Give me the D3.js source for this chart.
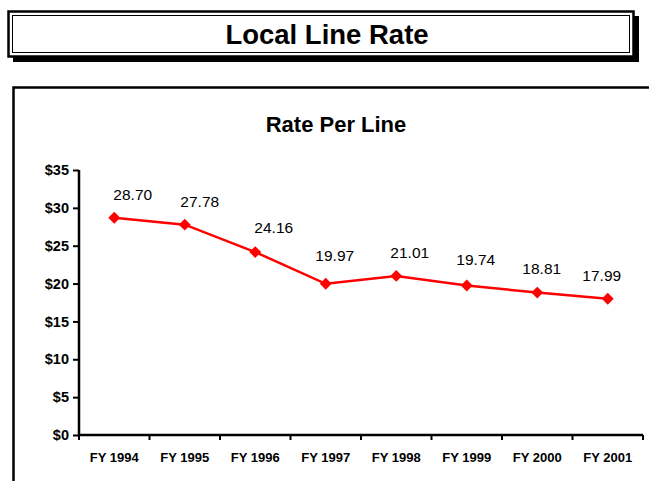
<!DOCTYPE html>
<html>
<head>
<meta charset="utf-8">
<script src="https://cdn.jsdelivr.net/npm/d3@7"></script>
<style>
  html, body { margin: 0; padding: 0; background: #fff; }
  svg { display: block; font-family: "Liberation Sans", Arial, sans-serif; }
</style>
</head>
<body>
<svg id="chart" width="649" height="481"></svg>
<script>
// Fiscal years and average local line rate (dollars per line)
const years = ["FY 1994", "FY 1995", "FY 1996", "FY 1997", "FY 1998", "FY 1999", "FY 2000", "FY 2001"];
const rates = [28.70, 27.78, 24.16, 19.97, 21.01, 19.74, 18.81, 17.99];
const yTicks = [0, 5, 10, 15, 20, 25, 30, 35];

// Hand-placed value label nudges (pixels relative to each marker)
const labelDx = [18.5, 15, 18.5, 9, 13.5, 9, 4.5, -6];
const labelDy = [-18, -18, -19, -23, -18, -21, -19, -18];

const svg = d3.select("#chart");

// Header banner with drop shadow and double border
const banner = svg.append("g");
banner.append("rect").attr("x", 13).attr("y", 16).attr("width", 626).attr("height", 46).attr("fill", "#000");
banner.append("rect").attr("x", 8.5).attr("y", 11.5).attr("width", 625).attr("height", 45)
  .attr("fill", "#fff").attr("stroke", "#000").attr("stroke-width", 2.5);
banner.append("rect").attr("x", 12.5).attr("y", 15.5).attr("width", 617).attr("height", 37)
  .attr("fill", "none").attr("stroke", "#000").attr("stroke-width", 1);
banner.append("text").attr("x", 327).attr("y", 44).attr("text-anchor", "middle")
  .attr("font-size", 27.5).attr("font-weight", "bold").text("Local Line Rate");

// Chart frame (runs off the right and bottom edges)
svg.append("path").attr("d", "M13.5,490 V87.5 H660")
  .attr("fill", "none").attr("stroke", "#000").attr("stroke-width", 2.5);

svg.append("text").attr("x", 336).attr("y", 132).attr("text-anchor", "middle")
  .attr("font-size", 22).attr("font-weight", "bold").text("Rate Per Line");

const x = d3.scaleBand().domain(years).range([79, 643]);
const y = d3.scaleLinear().domain([0, 35]).range([435, 170]);

// Y axis
const yAxis = svg.append("g").attr("transform", "translate(79,0)")
  .call(d3.axisLeft(y).tickValues(yTicks).tickSize(6).tickPadding(4).tickFormat(d => "$" + d));
yAxis.select(".domain").attr("stroke-width", 2.5).attr("d", "M0," + y(35) + "V" + y(0));
yAxis.selectAll(".tick line").attr("stroke-width", 2);
yAxis.selectAll("text").attr("font-size", 14.5).attr("font-weight", "bold")
  .attr("font-family", "Liberation Sans, Arial, sans-serif").attr("fill", "#000");

// X axis with ticks at category boundaries
const xAxis = svg.append("g").attr("transform", "translate(0," + y(0) + ")");
xAxis.append("line").attr("x1", 79).attr("x2", 643).attr("stroke", "#000").attr("stroke-width", 2.5);
const bounds = years.map(d => x(d)).concat([x.range()[1]]);
xAxis.selectAll(".xtick").data(bounds).join("line")
  .attr("x1", d => d).attr("x2", d => d).attr("y1", 0).attr("y2", 5)
  .attr("stroke", "#000").attr("stroke-width", 2);
xAxis.selectAll(".xlabel").data(years).join("text")
  .attr("x", d => x(d) + x.bandwidth() / 2).attr("y", 27)
  .attr("text-anchor", "middle").attr("font-size", 13).attr("font-weight", "bold").text(d => d);

// Series line, markers and value labels
const cx = (d, i) => x(years[i]) + x.bandwidth() / 2;
const line = d3.line().x((d, i) => cx(d, i)).y(d => y(d));
svg.append("path").datum(rates).attr("d", line)
  .attr("fill", "none").attr("stroke", "#ff0000").attr("stroke-width", 2.5);
svg.selectAll(".marker").data(rates).join("path")
  .attr("d", d3.symbol().type(d3.symbolDiamond2).size(90))
  .attr("transform", (d, i) => "translate(" + cx(d, i) + "," + y(d) + ")")
  .attr("fill", "#ff0000");
svg.selectAll(".vlabel").data(rates).join("text")
  .attr("x", (d, i) => cx(d, i) + labelDx[i]).attr("y", (d, i) => y(d) + labelDy[i])
  .attr("text-anchor", "middle").attr("font-size", 15.5).text(d => d.toFixed(2));
</script>
</body>
</html>
